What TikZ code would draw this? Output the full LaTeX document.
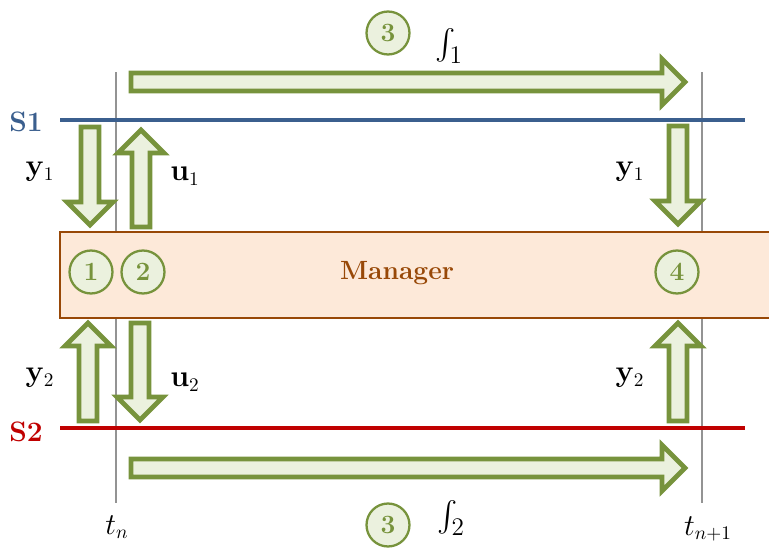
\documentclass[tikz,border=0pt]{standalone}
\usepackage{amsmath}
\usepackage{tikz}
\usetikzlibrary{calc}

\definecolor{sysblue}{HTML}{3B5F8E}
\definecolor{sysred}{HTML}{C00000}
\definecolor{arrgreen}{HTML}{77933C}
\definecolor{arrfill}{HTML}{EBF1DE}
\definecolor{mgrfill}{HTML}{FDE9D9}
\definecolor{mgrbrown}{HTML}{984807}

\tikzset{
  fat/.style={draw=arrgreen, fill=arrfill, line width=2.7pt, line join=miter},
  stepnum/.style={circle, draw=arrgreen, fill=arrfill, line width=1.3pt,
    minimum size=0.86cm, inner sep=0pt, text=arrgreen,
    font=\fontsize{15}{17}\selectfont\bfseries},
  timeline/.style={draw=gray!85, line width=1.1pt},
  sysline/.style={line width=2.2pt},
  syslabel/.style={font=\fontsize{16}{19}\selectfont\bfseries},
  lab/.style={font=\fontsize{16}{19}\selectfont},
  mgrbox/.style={draw=mgrbrown, fill=mgrfill, line width=1.2pt, inner sep=0pt},
}

% wide hollow arrow from tail #1 to tip #2
\newcommand{\fatarrow}[2]{%
  \draw[fat] ($(#1)!0.18cm!90:(#2)$)
    -- ($(#2)!0.46cm!(#1)!0.18cm!90:(#2)$)
    -- ($(#2)!0.46cm!(#1)!0.46cm!90:(#2)$)
    -- (#2)
    -- ($(#2)!0.46cm!(#1)!0.46cm!-90:(#2)$)
    -- ($(#2)!0.46cm!(#1)!0.18cm!-90:(#2)$)
    -- ($(#1)!0.18cm!-90:(#2)$) -- cycle;}

\begin{document}
\begin{tikzpicture}[x=0.02cm, y=-0.02cm]
  \useasboundingbox (0,0) rectangle (769,548);

  % time instants
  \draw[timeline] (116,72) -- (116,503);
  \draw[timeline] (702,72) -- (702,503);
  \node[lab] (tn) at (117,527) {$t_n$};
  \node[lab] (tn1) at (708,529) {$t_{n+1}$};

  % the two subsystems
  \draw[sysline, sysblue] (60,120) -- (745,120);
  \draw[sysline, sysred] (60,428) -- (745,428);
  \node[syslabel, text=sysblue] (s1) at (26,122) {S1};
  \node[syslabel, text=sysred] (s2) at (26,432) {S2};

  % manager
  \node[mgrbox, anchor=north west, minimum width=14.5cm, minimum height=1.72cm] (mgr) at (59,231) {};
  \node[font=\fontsize{15}{18}\selectfont\bfseries, text=mgrbrown] (mgrtext) at (397,273) {Manager};
  \node[stepnum] (c1) at (91,272) {1};
  \node[stepnum] (c2) at (143,272) {2};
  \node[stepnum] (c4) at (677,272) {4};

  % integration steps
  \coordinate (int1 tail) at (131,82);
  \coordinate (int1 tip) at (685,82);
  \coordinate (int2 tail) at (131,468);
  \coordinate (int2 tip) at (685,468);
  \fatarrow{int1 tail}{int1 tip}
  \fatarrow{int2 tail}{int2 tip}
  \node[stepnum] (c3a) at (388,33) {3};
  \node[stepnum] (c3b) at (388,525) {3};
  \node[font=\fontsize{19}{22}\selectfont] (int1) at (449,46) {$\int_1$};
  \node[font=\fontsize{19}{22}\selectfont] (int2) at (451,518) {$\int_2$};

  % exchange at t_n
  \coordinate (y1 tail) at (90,127);
  \coordinate (y1 tip) at (90,225);
  \coordinate (u1 tail) at (141,227);
  \coordinate (u1 tip) at (141,130);
  \coordinate (y2 tail) at (88,421);
  \coordinate (y2 tip) at (88,323);
  \coordinate (u2 tail) at (140,323);
  \coordinate (u2 tip) at (140,420);
  \fatarrow{y1 tail}{y1 tip}
  \fatarrow{u1 tail}{u1 tip}
  \fatarrow{y2 tail}{y2 tip}
  \fatarrow{u2 tail}{u2 tip}
  \node[lab] (y1l) at (40,172) {$\mathbf{y}_1$};
  \node[lab] (u1l) at (185,176) {$\mathbf{u}_1$};
  \node[lab] (y2l) at (40,378) {$\mathbf{y}_2$};
  \node[lab] (u2l) at (185,382) {$\mathbf{u}_2$};

  % exchange at t_{n+1}
  \coordinate (y1r tail) at (678,126);
  \coordinate (y1r tip) at (678,224);
  \coordinate (y2r tail) at (678,421);
  \coordinate (y2r tip) at (678,323);
  \fatarrow{y1r tail}{y1r tip}
  \fatarrow{y2r tail}{y2r tip}
  \node[lab] (y1rl) at (630,172) {$\mathbf{y}_1$};
  \node[lab] (y2rl) at (630,378) {$\mathbf{y}_2$};
\end{tikzpicture}
\end{document}
